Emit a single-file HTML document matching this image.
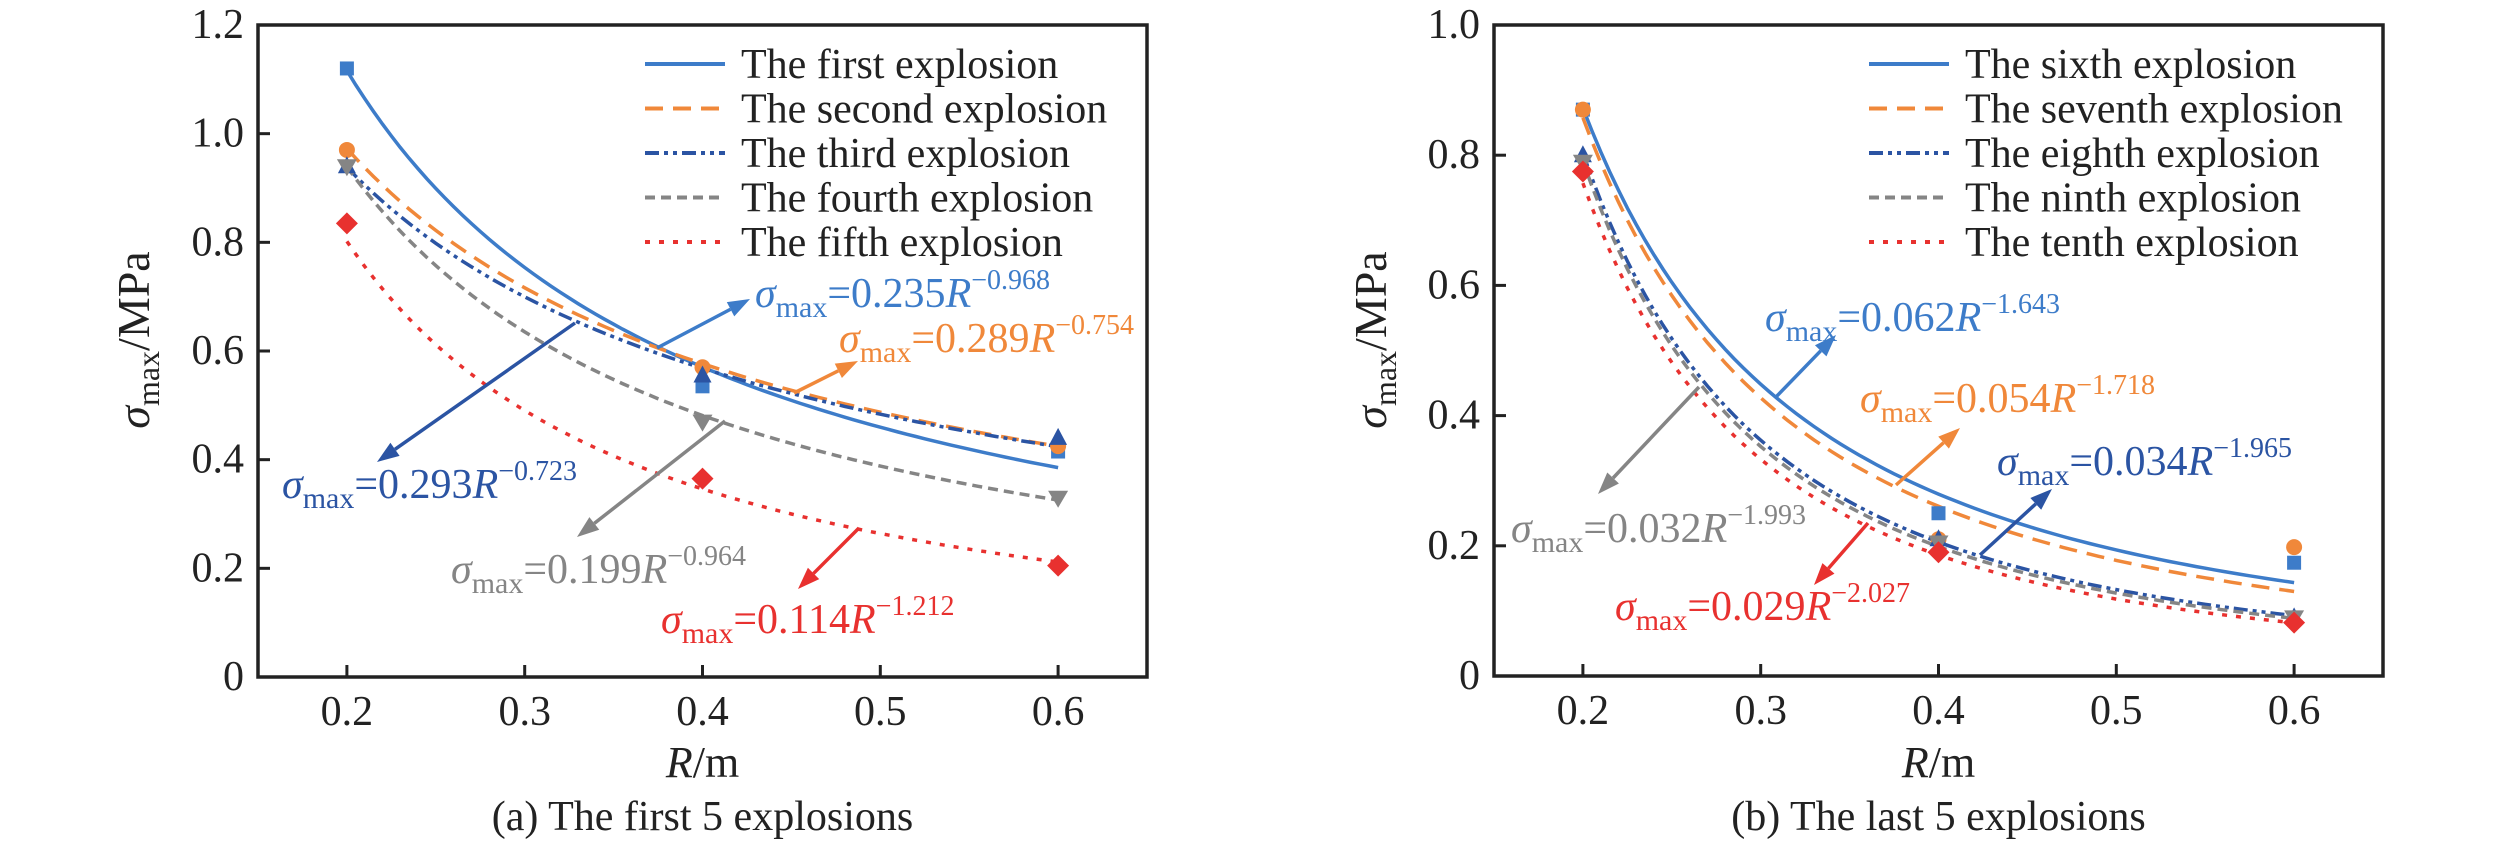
<!DOCTYPE html>
<html><head><meta charset="utf-8"><style>
html,body{margin:0;padding:0;background:#fff;}
svg{display:block;}
svg text{font-family:"Liberation Serif","Times New Roman","DejaVu Serif",serif;}
</style></head><body>
<svg id="fig" width="2520" height="850" viewBox="0 0 2520 850" xmlns="http://www.w3.org/2000/svg" font-family="Liberation Serif, DejaVu Serif, serif"></svg>
<script>
// ---- data ----
const xCats = [0.2, 0.4, 0.6];
const xTickVals = [0.2, 0.3, 0.4, 0.5, 0.6];
const xTickLabels = ["0.2", "0.3", "0.4", "0.5", "0.6"];
const yTickValsA = [0, 0.2, 0.4, 0.6, 0.8, 1.0, 1.2];
const yTickLabelsA = ["0", "0.2", "0.4", "0.6", "0.8", "1.0", "1.2"];
const yTickValsB = [0, 0.2, 0.4, 0.6, 0.8, 1.0];
const yTickLabelsB = ["0", "0.2", "0.4", "0.6", "0.8", "1.0"];
const namesA = ["The first explosion", "The second explosion", "The third explosion", "The fourth explosion", "The fifth explosion"];
const namesB = ["The sixth explosion", "The seventh explosion", "The eighth explosion", "The ninth explosion", "The tenth explosion"];
const s1 = [1.12, 0.535, 0.415];
const s2 = [0.97, 0.57, 0.425];
const s3 = [0.94, 0.555, 0.44];
const s4 = [0.94, 0.47, 0.33];
const s5 = [0.835, 0.365, 0.205];
const s6 = [0.87, 0.25, 0.174];
const s7 = [0.87, 0.21, 0.198];
const s8 = [0.80, 0.21, 0.09];
const s9 = [0.79, 0.205, 0.09];
const s10 = [0.775, 0.19, 0.082];
const fitCoefA = [0.235, 0.289, 0.293, 0.199, 0.114];
const fitExpA = [-0.968, -0.754, -0.723, -0.964, -1.212];
const fitCoefB = [0.062, 0.054, 0.034, 0.032, 0.029];
const fitExpB = [-1.643, -1.718, -1.965, -1.993, -2.027];
const coefLabelsA = ["0.235", "0.289", "0.293", "0.199", "0.114"];
const expLabelsA = ["−0.968", "−0.754", "−0.723", "−0.964", "−1.212"];
const coefLabelsB = ["0.062", "0.054", "0.034", "0.032", "0.029"];
const expLabelsB = ["−1.643", "−1.718", "−1.965", "−1.993", "−2.027"];

// ---- styles ----
const FONT = '"Liberation Serif", "DejaVu Serif", serif';
const colors = ["#3d7cc9", "#f0883a", "#2b54a3", "#858585", "#e8312f"];
const dashes = ["", "18 10", "14 5 4 5 4 5", "10 6", "5 9"];
const markers = ["square", "circle", "up", "down", "diamond"];
const NS = "http://www.w3.org/2000/svg";
const svg = document.getElementById("fig");
function el(tag, attrs, parent) {
  const e = document.createElementNS(NS, tag);
  for (const k in attrs) e.setAttribute(k, attrs[k]);
  if (tag === "text") e.style.fontFamily = FONT;
  (parent || svg).appendChild(e);
  return e;
}

function makePanel(p) {
  const g = el("g", {});
  
  
  const X = v => p.x0 + (v - 0.15) / 0.5 * (p.x1 - p.x0);
  const Y = v => p.yb - v / p.ymax * (p.yb - p.yt);
  p.yTicks.forEach((v, i) => {
    const yy = Y(v);
    if (v > 0 && v < p.ymax) {
      const t = el("line", {x1: p.x0, x2: p.x0 + 12, y1: yy, y2: yy, stroke: "#222", "stroke-width": 3}, g);
      
      
    }
    const tx = el("text", {x: p.x0 - 14, y: yy + 13, "font-size": 42, "text-anchor": "end", fill: "#222"}, g);
    tx.textContent = p.yLabels[i];
    
    
  });
  xTickVals.forEach((v, i) => {
    const xx = X(v);
    const t = el("line", {x1: xx, x2: xx, y1: p.yb, y2: p.yb - 12, stroke: "#222", "stroke-width": 3}, g);
    
    
    const tx = el("text", {x: xx, y: p.yb + 48, "font-size": 42, "text-anchor": "middle", fill: "#222"}, g);
    tx.textContent = xTickLabels[i];
    
    
  });
  const fr = el("rect", {x: p.x0, y: p.yt, width: p.x1 - p.x0, height: p.yb - p.yt, fill: "none", stroke: "#222", "stroke-width": 3.5}, g);
  
  
  p.coef.forEach((a, i) => {
    let d = "";
    for (let k = 0; k <= 80; k++) {
      const xv = 0.2 + 0.4 * k / 80;
      const yv = a * Math.pow(xv, p.exp[i]);
      d += (k ? "L" : "M") + X(xv).toFixed(1) + "," + Y(yv).toFixed(1);
    }
    const c = el("path", {d: d, fill: "none", stroke: colors[i], "stroke-width": 3.5, "stroke-dasharray": dashes[i]}, g);
    
    
  });
  p.series.forEach((s, i) => {
    s.forEach((v, j) => {
      const cx = X(xCats[j]), cy = Y(v), c = colors[i];
      let m;
      if (markers[i] === "square") m = el("rect", {x: cx - 7, y: cy - 7, width: 14, height: 14, fill: c}, g);
      else if (markers[i] === "circle") m = el("circle", {cx: cx, cy: cy, r: 8, fill: c}, g);
      else if (markers[i] === "up") m = el("polygon", {points: `${cx},${cy - 10} ${cx - 9},${cy + 7} ${cx + 9},${cy + 7}`, fill: c}, g);
      else if (markers[i] === "down") m = el("polygon", {points: `${cx},${cy + 10} ${cx - 10},${cy - 7} ${cx + 10},${cy - 7}`, fill: c}, g);
      else m = el("polygon", {points: `${cx},${cy - 11} ${cx + 11},${cy} ${cx},${cy + 11} ${cx - 11},${cy}`, fill: c}, g);
      
      
    });
  });
  p.names.forEach((n, i) => {
    const yy = p.legY + i * 44.5;
    const ln = el("line", {x1: p.legX, x2: p.legX + 80, y1: yy, y2: yy, stroke: colors[i], "stroke-width": 4, "stroke-dasharray": dashes[i]}, g);
    
    
    const tx = el("text", {x: p.legX + 96, y: yy + 14, "font-size": 42, fill: "#222"}, g);
    tx.textContent = n;
    
    
  });
  p.ann.forEach((a, i) => {
    const c = colors[i];
    const [x1, y1, x2, y2] = a.arrow;
    const ang = Math.atan2(y2 - y1, x2 - x1);
    const L = 22, W = 8;
    const bx = x2 - L * Math.cos(ang), by = y2 - L * Math.sin(ang);
    const ln = el("line", {x1: x1, y1: y1, x2: bx, y2: by, stroke: c, "stroke-width": 3.5}, g);
    
    
    const hd = el("polygon", {points: `${x2},${y2} ${bx + W * Math.sin(ang)},${by - W * Math.cos(ang)} ${bx - W * Math.sin(ang)},${by + W * Math.cos(ang)}`, fill: c}, g);
    
    
    const t = el("text", {x: a.tx, y: a.ty, "font-size": 42, fill: c}, g);
    
    
    t.innerHTML = `<tspan font-style="italic">σ</tspan><tspan font-size="30" dy="10">max</tspan><tspan dy="-10">=${p.coefLabels[i]}</tspan><tspan font-style="italic">R</tspan><tspan font-size="28" dy="-18">${p.expLabels[i]}</tspan>`;
  });
  const xt = el("text", {x: (p.x0 + p.x1) / 2, y: 777, "font-size": 44, "text-anchor": "middle", fill: "#222"}, g);
  xt.innerHTML = '<tspan font-style="italic">R</tspan>/m';
  
  
  const yt = el("text", {x: 0, y: 0, "font-size": 46, "text-anchor": "middle", fill: "#222", transform: `translate(${p.yTitleX},340) rotate(-90)`}, g);
  yt.innerHTML = '<tspan font-style="italic">σ</tspan><tspan font-size="32" dy="10">max</tspan><tspan dy="-10">/MPa</tspan>';
  
  
  const cap = el("text", {x: (p.x0 + p.x1) / 2, y: 830, "font-size": 42, "text-anchor": "middle", fill: "#222"}, g);
  cap.textContent = p.caption;
  
  
}

makePanel({
  name: "panel-a", x0: 258, x1: 1147, yt: 25, yb: 677, ymax: 1.2,
  yTicks: yTickValsA, yLabels: yTickLabelsA, series: [s1, s2, s3, s4, s5],
  coef: fitCoefA, exp: fitExpA, coefLabels: coefLabelsA, expLabels: expLabelsA,
  names: namesA, legX: 645, legY: 64, yTitleX: 149,
  caption: "(a) The first 5 explosions",
  ann: [
    {tx: 755, ty: 307, arrow: [657, 348, 750, 299]},
    {tx: 839, ty: 352, arrow: [794, 393, 858, 361]},
    {tx: 282, ty: 498, arrow: [575, 323, 377, 462]},
    {tx: 451, ty: 583, arrow: [725, 421, 577, 537]},
    {tx: 661, ty: 633, arrow: [859, 528, 798, 589]}
  ]
});
makePanel({
  name: "panel-b", x0: 1494, x1: 2383, yt: 25, yb: 676, ymax: 1.0,
  yTicks: yTickValsB, yLabels: yTickLabelsB, series: [s6, s7, s8, s9, s10],
  coef: fitCoefB, exp: fitExpB, coefLabels: coefLabelsB, expLabels: expLabelsB,
  names: namesB, legX: 1869, legY: 64, yTitleX: 1386,
  caption: "(b) The last 5 explosions",
  ann: [
    {tx: 1765, ty: 331, arrow: [1775, 398, 1836, 335]},
    {tx: 1860, ty: 412, arrow: [1896, 485, 1960, 428]},
    {tx: 1997, ty: 475, arrow: [1980, 555, 2052, 489]},
    {tx: 1511, ty: 542, arrow: [1699, 387, 1598, 494]},
    {tx: 1615, ty: 620, arrow: [1868, 523, 1814, 585]}
  ]
});
</script>
</body></html>
